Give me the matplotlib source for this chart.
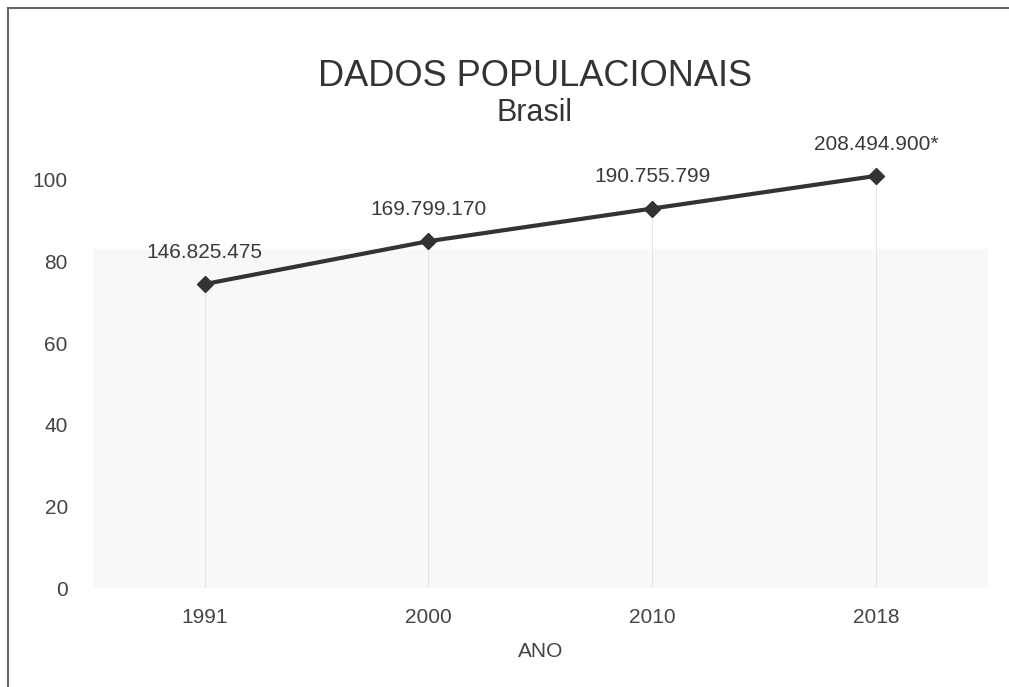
import matplotlib.pyplot as plt
from matplotlib.lines import Line2D

plt.rcParams['font.family'] = ['Liberation Sans', 'DejaVu Sans']

anos = ['1991', '2000', '2010', '2018']
valores = [74.5, 85, 93, 101]   # posição lida no eixo do gráfico
rotulos = ['146.825.475', '169.799.170', '190.755.799', '208.494.900*']
y_ticks = [0, 20, 40, 60, 80, 100]

fig = plt.figure(figsize=(10.09, 6.87), dpi=100)
ax = fig.add_axes([0.092, 0.144, 0.887, 0.594])

x = range(len(anos))
ax.axhspan(0, 83, color='#f8f8f8', zorder=0)  # fundo cinza do scan
for i in x:
    ax.vlines(i, 0, valores[i], color='#e6e6e6', lw=0.8, zorder=1)

ax.plot(x, valores, color='#333333', lw=3, marker='D', ms=8, clip_on=False, zorder=3)
for i in x:
    ax.annotate(rotulos[i], (i, valores[i]), xytext=(0, 16), textcoords='offset points',
                ha='center', va='bottom', fontsize=15, color='#3a3a3a',
                annotation_clip=False)

ax.set_xlim(-0.5, 3.5)
ax.set_ylim(0, 100)
ax.set_xticks(list(x))
ax.set_xticklabels(anos)
ax.set_yticks(y_ticks)
ax.tick_params(length=0, labelsize=15, labelcolor='#444444')
ax.tick_params(axis='y', pad=18)
ax.tick_params(axis='x', pad=14)
for s in ax.spines.values():
    s.set_visible(False)
ax.set_xlabel('ANO', fontsize=15, color='#444444', labelpad=11)

fig.text(0.53, 0.888, 'DADOS POPULACIONAIS', ha='center', va='center', fontsize=26, color='#333333')
fig.text(0.53, 0.835, 'Brasil', ha='center', va='center', fontsize=22, color='#333333')

# moldura do gráfico (esquerda e topo)
fig.add_artist(Line2D([0.008, 0.008], [0, 0.988], color='#666666', lw=1.5))
fig.add_artist(Line2D([0.008, 1.0], [0.988, 0.988], color='#666666', lw=1.5))

fig.savefig('out.png', dpi=100)
